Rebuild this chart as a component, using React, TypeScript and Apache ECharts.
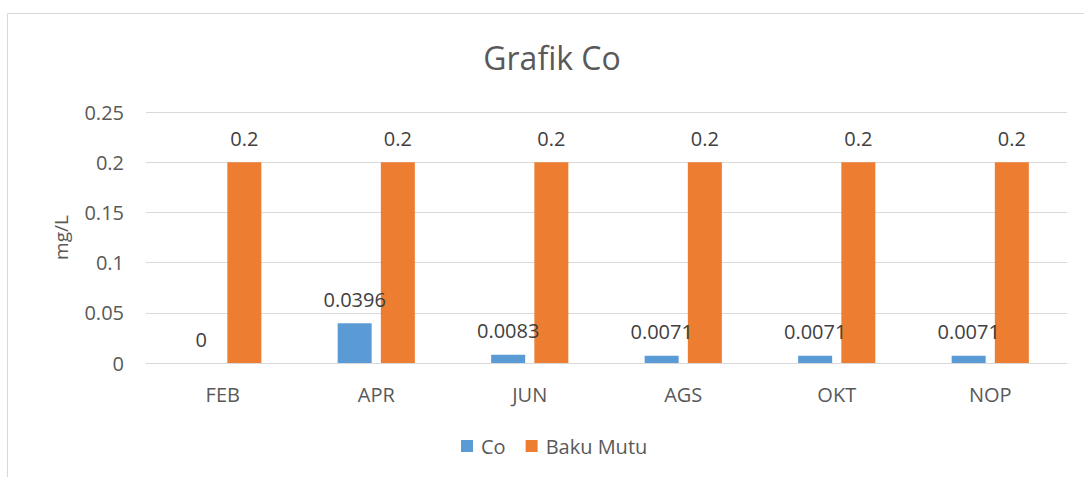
import React, { useEffect, useRef } from "react";
import * as echarts from "echarts";

const categories = ["FEB", "APR", "JUN", "AGS", "OKT", "NOP"];
const coValues = [0, 0.0396, 0.0083, 0.0071, 0.0071, 0.0071];
const bakuMutuValues = [0.2, 0.2, 0.2, 0.2, 0.2, 0.2];
const yTicks = { min: 0, max: 0.25, interval: 0.05 };

const FONT = "'Open Sans', 'Noto Sans', sans-serif";
const FS = 20;

export default function App() {
  const ref = useRef<HTMLDivElement>(null);
  useEffect(() => {
    document.body.style.margin = "0";
    const chart = echarts.init(ref.current!, null, { renderer: "svg" });
    chart.setOption({
      animation: false,
      backgroundColor: "#ffffff",
      textStyle: { fontFamily: FONT },
      title: {
        text: "Grafik Co",
        left: 547,
        textAlign: "center",
        top: 36,
        textStyle: { fontSize: 32, fontWeight: "normal", color: "#595959", fontFamily: FONT },
      },
      graphic: [
        {
          type: "rect",
          shape: { x: 7.5, y: 13.5, width: 1200, height: 600 },
          style: { fill: "none", stroke: "#D9D9D9", lineWidth: 1 },
          silent: true,
        },
      ],
      legend: {
        bottom: 16,
        left: 456,
        itemWidth: 12,
        itemHeight: 12,
        itemGap: 20,
        icon: "rect",
        textStyle: { fontSize: FS, color: "#595959", fontFamily: FONT, padding: [0, 0, 0, 3] },
        data: ["Co", "Baku Mutu"],
      },
      grid: { left: 146, right: 17, top: 112, bottom: 114, containLabel: false },
      xAxis: {
        type: "category",
        data: categories,
        axisLine: { lineStyle: { color: "#D9D9D9" } },
        axisTick: { show: false },
        axisLabel: { fontSize: FS, color: "#595959", margin: 21, fontFamily: FONT },
      },
      yAxis: {
        type: "value",
        min: yTicks.min,
        max: yTicks.max,
        interval: yTicks.interval,
        name: "mg/L",
        nameLocation: "middle",
        nameGap: 76,
        nameRotate: 90,
        nameTextStyle: { fontSize: 19, color: "#595959", fontFamily: FONT },
        axisLabel: { fontSize: FS, color: "#595959", margin: 22, fontFamily: FONT },
        splitLine: { lineStyle: { color: "#D9D9D9" } },
      },
      series: [
        {
          name: "Co",
          type: "bar",
          data: coValues,
          barWidth: 34,
          barGap: "27%",
          itemStyle: { color: "#5B9BD5" },
          label: {
            show: true,
            position: "top",
            distance: 14,
            fontSize: FS,
            color: "#404040",
            fontFamily: FONT,
          },
        },
        {
          name: "Baku Mutu",
          type: "bar",
          data: bakuMutuValues,
          barWidth: 34,
          itemStyle: { color: "#ED7D31" },
          label: {
            show: true,
            position: "top",
            distance: 14,
            fontSize: FS,
            color: "#404040",
            fontFamily: FONT,
          },
        },
      ],
    });
    return () => chart.dispose();
  }, []);
  return <div ref={ref} style={{ width: 1084, height: 477 }} />;
}
